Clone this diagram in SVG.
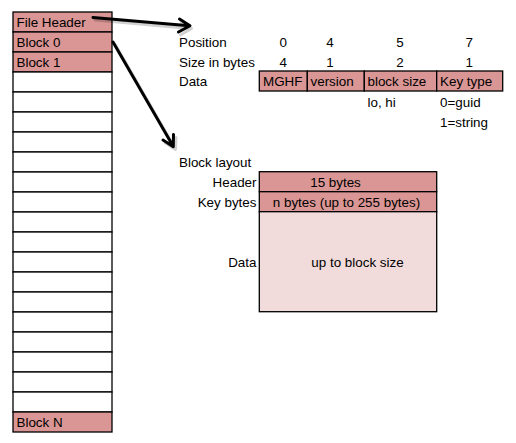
<svg xmlns="http://www.w3.org/2000/svg" width="516" height="443" viewBox="0 0 516 443">
<defs>
<style>
text{font-family:"Liberation Sans",Arial,sans-serif;font-size:13.4px;fill:#000}
.c{text-anchor:middle}
.r{text-anchor:end}
.pk{fill:#DA9694;stroke:#000;stroke-width:1.3}
.lp{fill:#F2DCDB;stroke:#000;stroke-width:1.3}
.wh{fill:#fff;stroke:#000;stroke-width:1.3}
.arr{fill:none;stroke:#000;stroke-width:3;stroke-linecap:round;stroke-linejoin:round}
.sh{fill:none;stroke:#000;stroke-opacity:0.18;stroke-width:3;stroke-linecap:round;stroke-linejoin:round}
</style>
</defs>
<rect width="516" height="443" fill="#fff"/>
<g id="file-column">
<rect class="pk" x="13" y="12" width="99" height="20"/>
<rect class="pk" x="13" y="32" width="99" height="20"/>
<rect class="pk" x="13" y="52" width="99" height="20"/>
<rect class="wh" x="13" y="72" width="99" height="20"/>
<rect class="wh" x="13" y="92" width="99" height="20"/>
<rect class="wh" x="13" y="112" width="99" height="20"/>
<rect class="wh" x="13" y="132" width="99" height="20"/>
<rect class="wh" x="13" y="152" width="99" height="20"/>
<rect class="wh" x="13" y="172" width="99" height="20"/>
<rect class="wh" x="13" y="192" width="99" height="20"/>
<rect class="wh" x="13" y="212" width="99" height="20"/>
<rect class="wh" x="13" y="232" width="99" height="20"/>
<rect class="wh" x="13" y="252" width="99" height="20"/>
<rect class="wh" x="13" y="272" width="99" height="20"/>
<rect class="wh" x="13" y="292" width="99" height="20"/>
<rect class="wh" x="13" y="312" width="99" height="20"/>
<rect class="wh" x="13" y="332" width="99" height="20"/>
<rect class="wh" x="13" y="352" width="99" height="20"/>
<rect class="wh" x="13" y="372" width="99" height="20"/>
<rect class="wh" x="13" y="392" width="99" height="20"/>
<rect class="pk" x="13" y="412" width="99" height="20"/>
<text x="16.5" y="26.7">File Header</text>
<text x="16.5" y="46.7">Block 0</text>
<text x="16.5" y="66.7">Block 1</text>
<text x="16.5" y="426.7">Block N</text>
</g>
<g id="file-header-layout">
<text x="179" y="46.7">Position</text>
<text x="179" y="66.7">Size in bytes</text>
<text x="179" y="86.2">Data</text>
<text class="c" x="283.3" y="46.7">0</text>
<text class="c" x="330" y="46.7">4</text>
<text class="c" x="400" y="46.7">5</text>
<text class="c" x="469.3" y="46.7">7</text>
<text class="c" x="283.3" y="66.7">4</text>
<text class="c" x="330" y="66.7">1</text>
<text class="c" x="400" y="66.7">2</text>
<text class="c" x="469.3" y="66.7">1</text>
<rect class="pk" x="259.3" y="71" width="48" height="20"/>
<rect class="pk" x="307.3" y="71" width="57" height="20"/>
<rect class="pk" x="364.3" y="71" width="72.4" height="20"/>
<rect class="pk" x="436.7" y="71" width="66" height="20"/>
<text x="263" y="86.2">MGHF</text>
<text x="310.5" y="86.2">version</text>
<text x="367.5" y="86.2">block size</text>
<text x="440" y="86.2">Key type</text>
<text x="367.5" y="106.7">lo, hi</text>
<text x="440" y="106.7">0=guid</text>
<text x="440" y="126.7">1=string</text>
</g>
<g id="block-layout">
<text x="179" y="166.7">Block layout</text>
<rect class="pk" x="259.3" y="171.7" width="177.4" height="20"/>
<rect class="pk" x="259.3" y="191.7" width="177.4" height="20"/>
<rect class="lp" x="259.3" y="211.7" width="177.4" height="100"/>
<text class="r" x="256.5" y="186.7">Header</text>
<text class="r" x="256.5" y="206.7">Key bytes</text>
<text class="r" x="256.5" y="266.7">Data</text>
<text class="c" x="335.5" y="186.7">15 bytes</text>
<text class="c" x="346.5" y="206.7">n bytes (up to 255 bytes)</text>
<text class="c" x="357.5" y="266.7">up to block size</text>
</g>
<g id="connectors">
<path class="sh" d="M95 20 L190 28.5 M181 22 L191.5 28.5 L180.5 35"/>
<path class="sh" d="M115.5 45 L175.5 149 M176 137.5 L175.5 149.5 L165.5 143"/>
<path class="arr" d="M93 17.5 L189 25.7 M179.5 19 L190 25.7 L178.5 32"/>
<path class="arr" d="M113 42 L173.3 146.5 M173.5 134.5 L173.3 146.7 L163 140"/>
</g>
</svg>
